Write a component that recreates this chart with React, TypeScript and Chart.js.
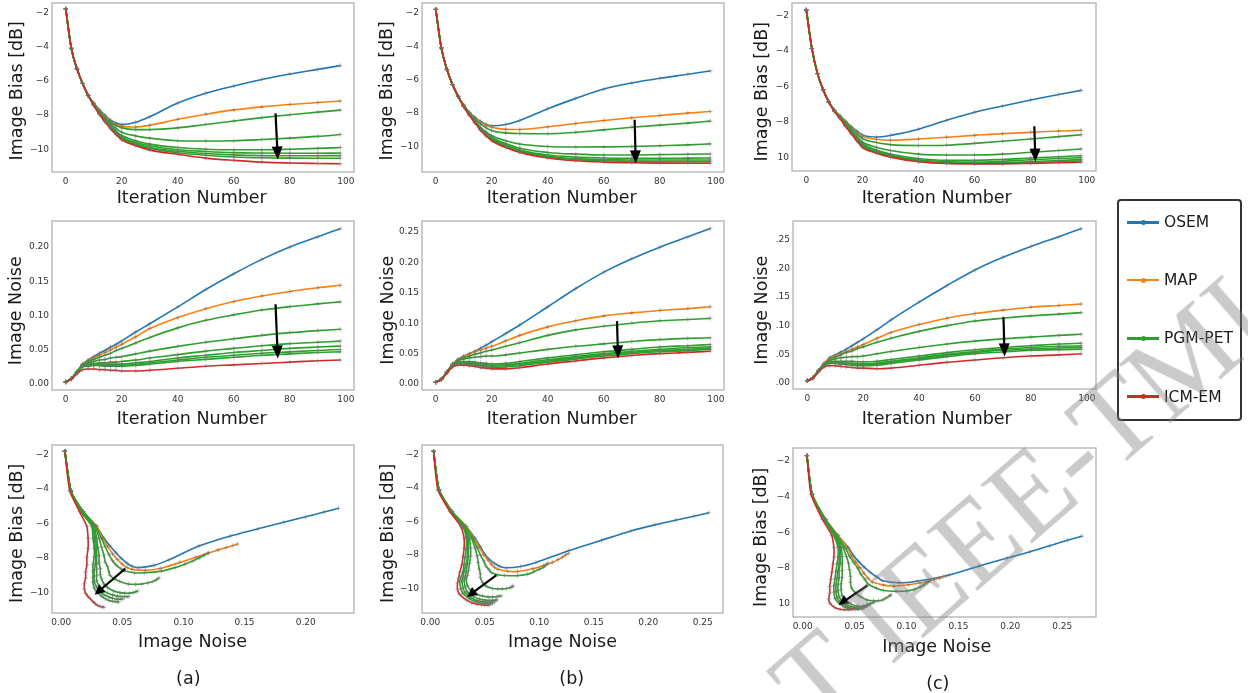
import React, { useEffect, useRef } from 'react';
import { Chart, registerables } from 'chart.js';
Chart.register(...registerables);

// ---------------- data ----------------
const ITERS = [0, 2, 4, 6, 8, 10, 12, 14, 16, 18, 20, 25, 30, 40, 50, 60, 70, 80, 90, 98];
const METHODS = ['OSEM', 'MAP', 'PGM-PET', 'ICM-EM'];
const COLORS = ['#1f77b4', '#ff7f0e', '#2ca02c', '#d62728'];

// column (a)
const A_BIAS_OSEM = [-1.8, -4.1, -5.3, -6.15, -6.85, -7.3, -7.7, -8.0, -8.3, -8.47, -8.55, -8.42, -8.1, -7.3, -6.73, -6.3, -5.92, -5.6, -5.33, -5.11];
const A_BIAS_MAP = [-1.8, -4.1, -5.3, -6.15, -6.85, -7.32, -7.74, -8.08, -8.35, -8.55, -8.65, -8.7, -8.6, -8.25, -7.95, -7.7, -7.52, -7.38, -7.27, -7.18];
const A_BIAS_PGM = [
  [-1.8, -4.1, -5.3, -6.15, -6.85, -7.34, -7.78, -8.15, -8.4, -8.62, -8.75, -8.85, -8.85, -8.75, -8.55, -8.35, -8.15, -7.98, -7.83, -7.71],
  [-1.8, -4.1, -5.3, -6.15, -6.85, -7.36, -7.83, -8.22, -8.5, -8.8, -9.0, -9.22, -9.35, -9.5, -9.52, -9.5, -9.43, -9.35, -9.25, -9.14],
  [-1.8, -4.1, -5.3, -6.15, -6.85, -7.38, -7.86, -8.27, -8.6, -8.95, -9.2, -9.5, -9.7, -9.9, -10.0, -10.03, -10.03, -10.0, -9.95, -9.9],
  [-1.8, -4.1, -5.3, -6.15, -6.85, -7.4, -7.89, -8.31, -8.65, -9.0, -9.3, -9.6, -9.8, -10.03, -10.13, -10.2, -10.22, -10.23, -10.23, -10.22],
  [-1.8, -4.1, -5.3, -6.15, -6.85, -7.41, -7.91, -8.34, -8.7, -9.05, -9.35, -9.68, -9.9, -10.12, -10.25, -10.33, -10.37, -10.38, -10.38, -10.37],
  [-1.8, -4.1, -5.3, -6.15, -6.85, -7.42, -7.93, -8.37, -8.75, -9.1, -9.4, -9.73, -9.95, -10.2, -10.35, -10.45, -10.5, -10.52, -10.53, -10.53],
];
const A_BIAS_ICM = [-1.8, -4.1, -5.3, -6.15, -6.85, -7.45, -7.95, -8.4, -8.8, -9.15, -9.45, -9.8, -10.05, -10.3, -10.52, -10.65, -10.75, -10.8, -10.83, -10.85];
const A_NOISE_OSEM = [0.003, 0.008, 0.018, 0.029, 0.035, 0.04, 0.045, 0.049, 0.054, 0.058, 0.063, 0.076, 0.088, 0.1126, 0.138, 0.161, 0.182, 0.2, 0.215, 0.2268];
const A_NOISE_MAP = [0.003, 0.008, 0.018, 0.029, 0.034, 0.038, 0.042, 0.046, 0.05, 0.054, 0.058, 0.069, 0.081, 0.097, 0.11, 0.1205, 0.1285, 0.135, 0.1405, 0.1442];
const A_NOISE_PGM = [
  [0.003, 0.008, 0.018, 0.028, 0.033, 0.036, 0.039, 0.042, 0.045, 0.049, 0.052, 0.06, 0.068, 0.082, 0.093, 0.101, 0.108, 0.113, 0.117, 0.12],
  [0.003, 0.008, 0.018, 0.028, 0.031, 0.033, 0.035, 0.036, 0.038, 0.039, 0.04, 0.044, 0.048, 0.055, 0.061, 0.066, 0.071, 0.075, 0.078, 0.08],
  [0.003, 0.008, 0.017, 0.027, 0.029, 0.03, 0.031, 0.031, 0.032, 0.032, 0.033, 0.035, 0.038, 0.043, 0.048, 0.052, 0.056, 0.059, 0.061, 0.0626],
  [0.003, 0.008, 0.017, 0.026, 0.028, 0.029, 0.029, 0.029, 0.029, 0.029, 0.029, 0.031, 0.033, 0.038, 0.042, 0.046, 0.049, 0.052, 0.054, 0.0554],
  [0.003, 0.008, 0.017, 0.026, 0.027, 0.028, 0.028, 0.028, 0.027, 0.027, 0.027, 0.029, 0.031, 0.035, 0.039, 0.042, 0.045, 0.047, 0.049, 0.0505],
  [0.003, 0.008, 0.016, 0.025, 0.026, 0.027, 0.027, 0.026, 0.026, 0.026, 0.026, 0.027, 0.029, 0.033, 0.036, 0.039, 0.042, 0.044, 0.046, 0.047],
];
const A_NOISE_ICM = [0.003, 0.007, 0.015, 0.021, 0.022, 0.022, 0.021, 0.021, 0.02, 0.02, 0.019, 0.019, 0.02, 0.023, 0.026, 0.028, 0.03, 0.032, 0.034, 0.035];

// column (b)
const B_BIAS_OSEM = [-1.8, -4.1, -5.4, -6.3, -7.0, -7.52, -7.95, -8.25, -8.5, -8.68, -8.76, -8.68, -8.44, -7.74, -7.12, -6.56, -6.2, -5.92, -5.68, -5.48];
const B_BIAS_MAP = [-1.8, -4.1, -5.4, -6.3, -7.0, -7.54, -7.98, -8.3, -8.55, -8.73, -8.85, -8.97, -8.98, -8.82, -8.62, -8.44, -8.28, -8.14, -8.0, -7.9];
const B_BIAS_PGM = [
  [-1.8, -4.1, -5.4, -6.3, -7.0, -7.55, -8.0, -8.35, -8.65, -8.88, -9.05, -9.18, -9.22, -9.23, -9.15, -9.0, -8.85, -8.72, -8.6, -8.48],
  [-1.8, -4.1, -5.4, -6.3, -7.0, -7.57, -8.05, -8.45, -8.85, -9.13, -9.35, -9.65, -9.85, -10.0, -10.03, -10.02, -10.0, -9.95, -9.9, -9.84],
  [-1.8, -4.1, -5.4, -6.3, -7.0, -7.58, -8.07, -8.5, -8.92, -9.22, -9.45, -9.82, -10.1, -10.35, -10.45, -10.5, -10.5, -10.48, -10.46, -10.44],
  [-1.8, -4.1, -5.4, -6.3, -7.0, -7.59, -8.08, -8.52, -8.95, -9.27, -9.5, -9.9, -10.2, -10.5, -10.62, -10.68, -10.7, -10.7, -10.69, -10.68],
  [-1.8, -4.1, -5.4, -6.3, -7.0, -7.6, -8.1, -8.54, -8.98, -9.31, -9.55, -9.96, -10.25, -10.58, -10.72, -10.78, -10.8, -10.8, -10.8, -10.8],
  [-1.8, -4.1, -5.4, -6.3, -7.0, -7.61, -8.11, -8.56, -9.0, -9.34, -9.6, -10.01, -10.3, -10.62, -10.78, -10.85, -10.88, -10.9, -10.9, -10.9],
];
const B_BIAS_ICM = [-1.8, -4.1, -5.4, -6.3, -7.0, -7.62, -8.12, -8.58, -9.02, -9.37, -9.65, -10.06, -10.35, -10.68, -10.85, -10.93, -10.97, -10.99, -11.0, -11.0];
const B_NOISE_OSEM = [0.003, 0.008, 0.02, 0.033, 0.041, 0.046, 0.05, 0.054, 0.059, 0.064, 0.0695, 0.083, 0.097, 0.127, 0.157, 0.184, 0.206, 0.225, 0.242, 0.2555];
const B_NOISE_MAP = [0.003, 0.008, 0.02, 0.033, 0.04, 0.045, 0.049, 0.053, 0.056, 0.059, 0.062, 0.071, 0.08, 0.094, 0.104, 0.112, 0.117, 0.121, 0.124, 0.127];
const B_NOISE_PGM = [
  [0.003, 0.008, 0.02, 0.032, 0.039, 0.043, 0.046, 0.049, 0.051, 0.054, 0.056, 0.062, 0.068, 0.08, 0.089, 0.095, 0.1, 0.104, 0.106, 0.108],
  [0.003, 0.008, 0.02, 0.032, 0.038, 0.041, 0.043, 0.044, 0.045, 0.046, 0.046, 0.048, 0.051, 0.057, 0.062, 0.066, 0.07, 0.073, 0.075, 0.076],
  [0.003, 0.008, 0.019, 0.031, 0.036, 0.037, 0.037, 0.036, 0.035, 0.034, 0.033, 0.034, 0.037, 0.043, 0.048, 0.053, 0.057, 0.061, 0.063, 0.065],
  [0.003, 0.008, 0.019, 0.031, 0.035, 0.035, 0.035, 0.034, 0.033, 0.032, 0.031, 0.032, 0.034, 0.04, 0.045, 0.05, 0.054, 0.057, 0.06, 0.0613],
  [0.003, 0.008, 0.019, 0.03, 0.034, 0.034, 0.034, 0.033, 0.031, 0.03, 0.029, 0.03, 0.032, 0.038, 0.043, 0.048, 0.052, 0.055, 0.057, 0.059],
  [0.003, 0.008, 0.019, 0.03, 0.033, 0.033, 0.032, 0.031, 0.03, 0.028, 0.027, 0.028, 0.03, 0.036, 0.041, 0.046, 0.05, 0.053, 0.055, 0.057],
];
const B_NOISE_ICM = [0.003, 0.007, 0.018, 0.028, 0.031, 0.031, 0.03, 0.029, 0.027, 0.026, 0.025, 0.025, 0.027, 0.033, 0.038, 0.043, 0.047, 0.05, 0.052, 0.054];

// column (c)
const C_BIAS_OSEM = [-1.7, -3.87, -5.28, -6.18, -6.87, -7.32, -7.65, -7.95, -8.25, -8.5, -8.72, -8.84, -8.75, -8.4, -7.9, -7.45, -7.1, -6.76, -6.45, -6.22];
const C_BIAS_MAP = [-1.7, -3.87, -5.28, -6.18, -6.87, -7.33, -7.67, -7.98, -8.3, -8.58, -8.8, -8.97, -9.02, -8.95, -8.85, -8.75, -8.65, -8.58, -8.5, -8.46];
const C_BIAS_PGM = [
  [-1.7, -3.87, -5.28, -6.18, -6.87, -7.34, -7.69, -8.02, -8.35, -8.66, -8.92, -9.15, -9.27, -9.32, -9.3, -9.2, -9.08, -8.95, -8.82, -8.71],
  [-1.7, -3.87, -5.28, -6.18, -6.87, -7.35, -7.72, -8.1, -8.47, -8.82, -9.12, -9.42, -9.6, -9.8, -9.85, -9.85, -9.8, -9.7, -9.6, -9.51],
  [-1.7, -3.87, -5.28, -6.18, -6.87, -7.36, -7.74, -8.14, -8.53, -8.9, -9.22, -9.57, -9.8, -10.05, -10.15, -10.15, -10.1, -10.02, -9.95, -9.89],
  [-1.7, -3.87, -5.28, -6.18, -6.87, -7.37, -7.75, -8.16, -8.56, -8.95, -9.28, -9.63, -9.86, -10.12, -10.22, -10.25, -10.2, -10.12, -10.05, -10.0],
  [-1.7, -3.87, -5.28, -6.18, -6.87, -7.38, -7.76, -8.18, -8.59, -8.99, -9.33, -9.68, -9.9, -10.17, -10.28, -10.3, -10.28, -10.22, -10.16, -10.11],
  [-1.7, -3.87, -5.28, -6.18, -6.87, -7.39, -7.77, -8.2, -8.61, -9.02, -9.37, -9.71, -9.93, -10.2, -10.31, -10.33, -10.32, -10.28, -10.23, -10.19],
];
const C_BIAS_ICM = [-1.7, -3.87, -5.28, -6.18, -6.87, -7.4, -7.8, -8.25, -8.65, -9.05, -9.42, -9.75, -9.97, -10.23, -10.33, -10.35, -10.35, -10.32, -10.29, -10.26];
const C_NOISE_OSEM = [0.004, 0.009, 0.022, 0.034, 0.044, 0.049, 0.054, 0.059, 0.065, 0.071, 0.077, 0.093, 0.11, 0.141, 0.17, 0.197, 0.219, 0.238, 0.255, 0.269];
const C_NOISE_MAP = [0.004, 0.009, 0.022, 0.034, 0.043, 0.047, 0.051, 0.055, 0.059, 0.063, 0.067, 0.078, 0.088, 0.102, 0.113, 0.121, 0.127, 0.132, 0.135, 0.1377];
const C_NOISE_PGM = [
  [0.004, 0.009, 0.022, 0.033, 0.041, 0.045, 0.049, 0.053, 0.056, 0.06, 0.063, 0.071, 0.078, 0.09, 0.1, 0.108, 0.113, 0.117, 0.12, 0.1227],
  [0.004, 0.009, 0.022, 0.032, 0.039, 0.042, 0.044, 0.045, 0.046, 0.046, 0.047, 0.051, 0.055, 0.062, 0.068, 0.073, 0.077, 0.08, 0.083, 0.0851],
  [0.004, 0.009, 0.021, 0.031, 0.037, 0.038, 0.038, 0.038, 0.038, 0.037, 0.037, 0.038, 0.041, 0.047, 0.053, 0.058, 0.062, 0.065, 0.068, 0.0694],
  [0.004, 0.009, 0.021, 0.031, 0.036, 0.036, 0.036, 0.035, 0.035, 0.034, 0.034, 0.035, 0.038, 0.044, 0.05, 0.055, 0.059, 0.062, 0.064, 0.0648],
  [0.004, 0.009, 0.021, 0.03, 0.035, 0.035, 0.035, 0.034, 0.033, 0.032, 0.032, 0.033, 0.036, 0.042, 0.048, 0.053, 0.057, 0.059, 0.061, 0.0619],
  [0.004, 0.009, 0.021, 0.03, 0.034, 0.034, 0.033, 0.032, 0.031, 0.03, 0.03, 0.031, 0.034, 0.04, 0.046, 0.051, 0.054, 0.057, 0.058, 0.059],
];
const C_NOISE_ICM = [0.004, 0.008, 0.019, 0.028, 0.03, 0.03, 0.029, 0.028, 0.027, 0.026, 0.026, 0.025, 0.026, 0.031, 0.036, 0.04, 0.044, 0.047, 0.049, 0.0509];

// tick values / labels
const ITER_TICKS = [0, 20, 40, 60, 80, 100];
const ITER_LABELS = ['0', '20', '40', '60', '80', '100'];
const BIAS_TICKS = [-10, -8, -6, -4, -2];
const BIAS_LABELS = ['\u221210', '\u22128', '\u22126', '\u22124', '\u22122'];
const BIAS_LABELS_C = ['10', '\u22128', '\u22126', '\u22124', '\u22122'];
const NOISE_TICKS_A = [0, 0.05, 0.1, 0.15, 0.2];
const NOISE_LABELS_A = ['0.00', '0.05', '0.10', '0.15', '0.20'];
const NOISE_TICKS_B = [0, 0.05, 0.1, 0.15, 0.2, 0.25];
const NOISE_LABELS_B = ['0.00', '0.05', '0.10', '0.15', '0.20', '0.25'];
const NOISE_LABELS_C = ['.00', '.05', '.10', '.15', '.20', '.25'];

// ---------------- layout ----------------
const FONT = 'DejaVu Sans';
const L = 52, PT = 12, PR = 14;

type Col = { bo: number[]; bm: number[]; bp: number[][]; bi: number[]; no: number[]; nm: number[]; np: number[][]; ni: number[] };
const COL_A: Col = { bo: A_BIAS_OSEM, bm: A_BIAS_MAP, bp: A_BIAS_PGM, bi: A_BIAS_ICM, no: A_NOISE_OSEM, nm: A_NOISE_MAP, np: A_NOISE_PGM, ni: A_NOISE_ICM };
const COL_B: Col = { bo: B_BIAS_OSEM, bm: B_BIAS_MAP, bp: B_BIAS_PGM, bi: B_BIAS_ICM, no: B_NOISE_OSEM, nm: B_NOISE_MAP, np: B_NOISE_PGM, ni: B_NOISE_ICM };
const COL_C: Col = { bo: C_BIAS_OSEM, bm: C_BIAS_MAP, bp: C_BIAS_PGM, bi: C_BIAS_ICM, no: C_NOISE_OSEM, nm: C_NOISE_MAP, np: C_NOISE_PGM, ni: C_NOISE_ICM };

type PanelCfg = {
  frame: number[]; limit: number; xr: number[]; yr: number[];
  xt: number[]; xl: string[]; yt: number[]; yl: string[];
  xTitle: string; yTitle: string; xT: number[]; yT: number[];
  col: Col; kind: string; arrow: number[]; head: number[]; caption?: any[];
};

const PANELS: PanelCfg[] = [
  { frame: [52, 3, 354, 172], limit: 212, xr: [-4.9, 102.9], yr: [-11.33, -1.45], xt: ITER_TICKS, xl: ITER_LABELS, yt: BIAS_TICKS, yl: BIAS_LABELS, xTitle: 'Iteration Number', yTitle: 'Image Bias [dB]', xT: [191.7, 203.4], yT: [21.6, 90.8], col: COL_A, kind: 'bias', arrow: [74.9, -7.9, 75.7, -10.6], head: [13, 5.5] },
  { frame: [422, 3, 724, 172], limit: 212, xr: [-4.9, 102.9], yr: [-11.52, -1.42], xt: ITER_TICKS, xl: ITER_LABELS, yt: BIAS_TICKS, yl: BIAS_LABELS, xTitle: 'Iteration Number', yTitle: 'Image Bias [dB]', xT: [561.7, 203.4], yT: [391.6, 90.8], col: COL_B, kind: 'bias', arrow: [71.0, -8.4, 71.4, -11.0], head: [13, 5.5] },
  { frame: [792, 3, 1096, 171], limit: 212, xr: [-5.1, 103.3], yr: [-10.75, -1.31], xt: ITER_TICKS, xl: ITER_LABELS, yt: BIAS_TICKS, yl: BIAS_LABELS_C, xTitle: 'Iteration Number', yTitle: 'Image Bias [dB]', xT: [936.7, 203.4], yT: [766.6, 91.7], col: COL_C, kind: 'bias', arrow: [81.3, -8.24, 81.7, -10.22], head: [13, 5.5] },
  { frame: [52, 221, 354, 390], limit: 432, xr: [-4.9, 102.9], yr: [-0.0087, 0.238], xt: ITER_TICKS, xl: ITER_LABELS, yt: NOISE_TICKS_A, yl: NOISE_LABELS_A, xTitle: 'Iteration Number', yTitle: 'Image Noise', xT: [191.7, 423.7], yT: [21.0, 310.8], col: COL_A, kind: 'noise', arrow: [74.9, 0.1165, 75.7, 0.0374], head: [13, 5.5] },
  { frame: [422, 221, 724, 390], limit: 432, xr: [-4.9, 102.9], yr: [-0.0098, 0.268], xt: ITER_TICKS, xl: ITER_LABELS, yt: NOISE_TICKS_B, yl: NOISE_LABELS_B, xTitle: 'Iteration Number', yTitle: 'Image Noise', xT: [561.7, 423.7], yT: [392.6, 310.3], col: COL_B, kind: 'noise', arrow: [64.7, 0.1034, 65.1, 0.0421], head: [13, 5.5] },
  { frame: [793, 221, 1096, 389], limit: 432, xr: [-5.1, 103.3], yr: [-0.0104, 0.2823], xt: ITER_TICKS, xl: ITER_LABELS, yt: NOISE_TICKS_B, yl: NOISE_LABELS_C, xTitle: 'Iteration Number', yTitle: 'Image Noise', xT: [936.7, 423.7], yT: [766.6, 310.3], col: COL_C, kind: 'noise', arrow: [70.2, 0.1146, 70.6, 0.0463], head: [13, 5.5] },
  { frame: [52, 445, 354, 613], limit: 693, xr: [-0.0075, 0.2395], yr: [-11.18, -1.44], xt: NOISE_TICKS_A, xl: NOISE_LABELS_A, yt: BIAS_TICKS, yl: BIAS_LABELS, xTitle: 'Image Noise', yTitle: 'Image Bias [dB]', xT: [192.5, 646.6], yT: [21.5, 533.3], col: COL_A, kind: 'trade', arrow: [0.0524, -8.61, 0.0274, -10.12], head: [10, 5], caption: ['(a)', 188.3, 683.8] },
  { frame: [422, 445, 723, 613], limit: 693, xr: [-0.0076, 0.2686], yr: [-11.46, -1.43], xt: NOISE_TICKS_B, xl: NOISE_LABELS_B, yt: BIAS_TICKS, yl: BIAS_LABELS, xTitle: 'Image Noise', yTitle: 'Image Bias [dB]', xT: [562.5, 646.6], yT: [392.6, 533.3], col: COL_B, kind: 'trade', arrow: [0.0607, -9.2, 0.0337, -10.5], head: [10, 5], caption: ['(b)', 571.7, 683.8] },
  { frame: [793, 448, 1096, 617], limit: 693, xr: [-0.0094, 0.2826], yr: [-10.76, -1.27], xt: NOISE_TICKS_B, xl: NOISE_LABELS_B, yt: BIAS_TICKS, yl: BIAS_LABELS_C, xTitle: 'Image Noise', yTitle: 'Image Bias [dB]', xT: [936.7, 651.5], yT: [766.3, 537.3], col: COL_C, kind: 'trade', arrow: [0.0623, -8.99, 0.0344, -10.09], head: [10, 5], caption: ['(c)', 937.8, 688.7] },
];

function buildDatasets(col: Col, kind: string) {
  const groups = [
    { color: COLORS[0], b: col.bo, n: col.no },
    { color: COLORS[1], b: col.bm, n: col.nm },
    ...col.bp.map((b, k) => ({ color: COLORS[2], b, n: col.np[k] })),
    { color: COLORS[3], b: col.bi, n: col.ni },
  ];
  return groups
    .map((g) => ({
      data: ITERS.map((it, i) =>
        kind === 'bias' ? { x: it, y: g.b[i] } : kind === 'noise' ? { x: it, y: g.n[i] } : { x: g.n[i], y: g.b[i] }
      ),
      borderColor: g.color,
      backgroundColor: g.color,
      borderWidth: 1.6,
      pointStyle: 'cross',
      pointRadius: 2.2,
      pointBorderWidth: 1,
      pointBorderColor: 'rgba(115,115,115,0.55)',
      pointBackgroundColor: 'rgba(0,0,0,0)',
      fill: false,
      cubicInterpolationMode: kind === 'trade' ? 'default' : 'monotone',
      tension: kind === 'trade' ? 0.2 : 0.4,
    }))
    .reverse();
}

function Panel({ p }: { p: PanelCfg }) {
  const ref = useRef<HTMLCanvasElement>(null);
  const [l, t, r, b] = p.frame;
  const cl = l - L;
  const ct = t - PT;
  const cw = L + (r - l) + PR;
  const ch = p.limit - ct;
  const B = ch - PT - (b - t);

  useEffect(() => {
    const overlay = {
      id: 'overlay' ,
      afterDatasetsDraw(chart: any) {
        const { ctx, chartArea: a, scales } = chart;
        // frame
        ctx.save();
        ctx.strokeStyle = '#ababab';
        ctx.lineWidth = 1.2;
        ctx.strokeRect(a.left, a.top, a.right - a.left, a.bottom - a.top);
        // arrow
        const xs = scales.x, ys = scales.y;
        const x0 = xs.getPixelForValue(p.arrow[0]), y0 = ys.getPixelForValue(p.arrow[1]);
        const x1 = xs.getPixelForValue(p.arrow[2]), y1 = ys.getPixelForValue(p.arrow[3]);
        const dx = x1 - x0, dy = y1 - y0, len = Math.hypot(dx, dy);
        const ux = dx / len, uy = dy / len;
        const [hl, hw] = p.head;
        const bx = x1 - ux * hl, by = y1 - uy * hl;
        ctx.strokeStyle = '#000';
        ctx.fillStyle = '#000';
        ctx.lineWidth = 2.2;
        ctx.beginPath();
        ctx.moveTo(x0, y0);
        ctx.lineTo(bx + ux * 2, by + uy * 2);
        ctx.stroke();
        ctx.beginPath();
        ctx.moveTo(x1, y1);
        ctx.lineTo(bx - uy * hw, by + ux * hw);
        ctx.lineTo(bx + uy * hw, by - ux * hw);
        ctx.closePath();
        ctx.fill();
        ctx.restore();
      },
      afterDraw(chart: any) {
        const { ctx } = chart;
        ctx.save();
        ctx.fillStyle = '#1a1a1a';
        ctx.font = '17.5px "' + FONT + '"';
        ctx.textAlign = 'center';
        ctx.textBaseline = 'alphabetic';
        ctx.fillText(p.xTitle, p.xT[0] - cl, p.xT[1] - ct);
        ctx.save();
        ctx.translate(p.yT[0] - cl, p.yT[1] - ct);
        ctx.rotate(-Math.PI / 2);
        ctx.fillText(p.yTitle, 0, 0);
        ctx.restore();
        if (p.caption) ctx.fillText(p.caption[0], p.caption[1] - cl, p.caption[2] - ct);
        ctx.restore();
      },
    };

    const tickFont = { family: FONT, size: 9 };
    const chart = new Chart(ref.current as HTMLCanvasElement, {
      type: 'line',
      data: { datasets: buildDatasets(p.col, p.kind) as any },
      options: {
        animation: false,
        responsive: false,
        devicePixelRatio: 1,
        events: [],
        layout: { padding: { top: PT, right: PR, left: 0, bottom: 0 } },
        plugins: { legend: { display: false }, tooltip: { enabled: false }, title: { display: false } },
        scales: {
          x: {
            type: 'linear',
            min: p.xr[0],
            max: p.xr[1],
            afterFit: (s: any) => { s.height = B; },
            afterBuildTicks: (s: any) => { s.ticks = p.xt.map((v) => ({ value: v })); },
            ticks: {
              autoSkip: false, maxRotation: 0, padding: 4, color: '#333', font: tickFont,
              callback: (v: any) => { const i = p.xt.findIndex((q) => Math.abs(q - v) < 1e-9); return i >= 0 ? p.xl[i] : ''; },
            },
            grid: { display: false, drawTicks: false },
            border: { display: false },
          },
          y: {
            type: 'linear',
            min: p.yr[0],
            max: p.yr[1],
            afterFit: (s: any) => { s.width = L; },
            afterBuildTicks: (s: any) => { s.ticks = p.yt.map((v) => ({ value: v })); },
            ticks: {
              autoSkip: false, padding: 3, color: '#333', font: tickFont,
              callback: (v: any) => { const i = p.yt.findIndex((q) => Math.abs(q - v) < 1e-9); return i >= 0 ? p.yl[i] : ''; },
            },
            grid: { display: false, drawTicks: false },
            border: { display: false },
          },
        },
      } as any,
      plugins: [overlay as any],
    });
    return () => chart.destroy();
  }, []);

  return (
    <canvas
      ref={ref}
      width={cw}
      height={ch}
      style={{ position: 'absolute', left: cl, top: ct, width: cw, height: ch }}
    />
  );
}

const LEGEND_Y = [21.3, 79, 137.3, 195.7];

export default function App() {
  return (
    <div style={{ position: 'absolute', left: 0, top: 0, width: 1248, height: 693, overflow: 'hidden', background: '#fff' }}>
      {PANELS.map((p, i) => (
        <Panel key={i} p={p} />
      ))}
      <div
        style={{
          position: 'absolute', left: 1117, top: 199, width: 125, height: 222,
          border: '2px solid #333', borderRadius: 4, boxSizing: 'border-box', background: '#fff',
          fontFamily: FONT, fontSize: 15.5, color: '#1a1a1a',
        }}
      >
        {METHODS.map((m, i) => (
          <React.Fragment key={m}>
            <div style={{ position: 'absolute', left: 8, top: LEGEND_Y[i] - 1.25, width: 32, height: 2.5, background: COLORS[i] }} />
            <div style={{ position: 'absolute', left: 21.5, top: LEGEND_Y[i] - 2.5, width: 5, height: 5, borderRadius: 3, background: COLORS[i] }} />
            <div style={{ position: 'absolute', left: 45, top: LEGEND_Y[i] - 9, lineHeight: '18px', whiteSpace: 'nowrap' }}>{m}</div>
          </React.Fragment>
        ))}
      </div>
      <div
        style={{
          position: 'absolute', left: 790, top: 702 - 59, height: 118, lineHeight: '118px',
          fontFamily: '"Liberation Serif", serif', fontSize: 118, whiteSpace: 'nowrap',
          color: 'rgba(128,128,128,0.42)', transform: 'rotate(-41deg)', transformOrigin: '0 50%',
          pointerEvents: 'none',
        }}
      >
        T IEEE-TMI
      </div>
    </div>
  );
}
